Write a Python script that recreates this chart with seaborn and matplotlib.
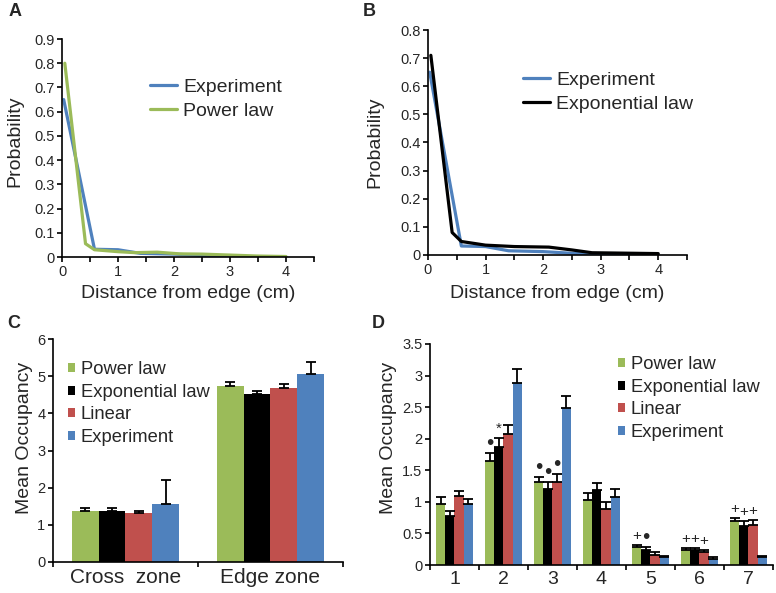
# Edge preference: distance distributions (A, B) and mean occupancy (C, D)

import numpy as np
import pandas as pd
import matplotlib.pyplot as plt
import seaborn as sns

sns.set_theme(style='ticks')
plt.rcParams['font.family'] = ['Liberation Sans', 'DejaVu Sans']

# Panel A / B data - probability vs distance from edge
exp_x = [0.03, 0.58, 1.0, 1.4, 2.0, 2.5, 3.0, 3.5, 4.0]
exp_y = [0.65, 0.032, 0.03, 0.015, 0.012, 0.006, 0.003, 0.001, 0.0]
power_x = [0.05, 0.42, 0.58, 1.0, 1.3, 1.7, 2.1, 2.5, 3.0, 3.5, 4.0]
power_y = [0.80, 0.055, 0.03, 0.022, 0.018, 0.02, 0.013, 0.012, 0.008, 0.004, 0.002]
expo_x = [0.05, 0.42, 0.58, 1.0, 1.5, 2.1, 2.5, 2.85, 4.0]
expo_y = [0.71, 0.08, 0.048, 0.035, 0.03, 0.028, 0.018, 0.008, 0.005]

# Panel C data - zones
models = ['Power law', 'Exponential law', 'Linear', 'Experiment']
zones = ['Cross  zone', 'Edge zone']
zone_mean = {'Power law': [1.36, 4.73], 'Exponential law': [1.36, 4.52],
             'Linear': [1.31, 4.67], 'Experiment': [1.56, 5.06]}
zone_err = {'Power law': [0.09, 0.10], 'Exponential law': [0.09, 0.09],
            'Linear': [0.07, 0.12], 'Experiment': [0.65, 0.32]}

# Panel D data - regions 1..7
regions = ['1', '2', '3', '4', '5', '6', '7']
reg_mean = {'Power law': [0.97, 1.64, 1.31, 1.03, 0.28, 0.24, 0.70],
            'Exponential law': [0.78, 1.87, 1.20, 1.19, 0.24, 0.24, 0.62],
            'Linear': [1.10, 2.07, 1.32, 0.88, 0.16, 0.20, 0.63],
            'Experiment': [0.97, 2.88, 2.48, 1.07, 0.12, 0.09, 0.12]}
reg_err = {'Power law': [0.10, 0.13, 0.09, 0.11, 0.04, 0.03, 0.05],
           'Exponential law': [0.08, 0.14, 0.12, 0.11, 0.05, 0.03, 0.08],
           'Linear': [0.07, 0.15, 0.12, 0.12, 0.04, 0.04, 0.08],
           'Experiment': [0.08, 0.22, 0.20, 0.14, 0.03, 0.03, 0.03]}
# significance marks above bars (region, model, symbol)
marks = [(1, 'Power law', '•'), (1, 'Exponential law', '*'),
         (2, 'Power law', '•'), (2, 'Exponential law', '•'), (2, 'Linear', '•'),
         (4, 'Power law', '+'), (4, 'Exponential law', '•'),
         (5, 'Power law', '+'), (5, 'Exponential law', '+'), (5, 'Linear', '+'),
         (6, 'Power law', '+'), (6, 'Exponential law', '+'), (6, 'Linear', '+')]

colors = {'Power law': '#9BBB59', 'Exponential law': '#000000',
          'Linear': '#C0504D', 'Experiment': '#4F81BD'}

fig = plt.figure(figsize=(7.76, 5.93), dpi=100)
axA = fig.add_axes([0.0799, 0.5666, 0.3247, 0.3676])
axB = fig.add_axes([0.5515, 0.5700, 0.3338, 0.3794])
axC = fig.add_axes([0.0683, 0.0523, 0.3737, 0.3760])
axD = fig.add_axes([0.5541, 0.0472, 0.4420, 0.3727])


def style_axis(ax):
    sns.despine(ax=ax)
    for s in ['left', 'bottom']:
        ax.spines[s].set_linewidth(1.2)
        ax.spines[s].set_color('black')
    ax.tick_params(direction='out', length=3.5, width=1.2, color='black',
                   labelsize=10.5, pad=2)


def fmt(v):
    return '%g' % round(v, 2)


# ---- A and B: line plots
dfA = pd.DataFrame({'x': exp_x + power_x,
                    'y': exp_y + power_y,
                    'model': ['Experiment'] * len(exp_x) + ['Power law'] * len(power_x)})
dfB = pd.DataFrame({'x': exp_x + expo_x,
                    'y': exp_y + expo_y,
                    'model': ['Experiment'] * len(exp_x) + ['Exponential law'] * len(expo_x)})

for ax, df, ymax, leg_xy in [(axA, dfA, 0.9, (0.35, 0.821)), (axB, dfB, 0.8, (0.367, 0.818))]:
    sns.lineplot(data=df, x='x', y='y', hue='model', palette=colors, sort=False,
                 linewidth=2.3, estimator=None, ax=ax)
    style_axis(ax)
    ax.set_xlim(0, 4.5)
    ax.set_ylim(0, ymax)
    xt = np.arange(0, 4.51, 0.5)
    ax.set_xticks(xt)
    ax.set_xticklabels([str(int(t)) if t == int(t) and t < 4.5 else '' for t in xt])
    yt = np.arange(0, ymax + 0.001, 0.1)
    ax.set_yticks(yt)
    ax.set_yticklabels([fmt(t) for t in yt])
    ax.set_xlabel('Distance from edge (cm)', fontsize=14)
    ax.set_ylabel('Probability', fontsize=14)
    h, l = ax.get_legend_handles_labels()
    ax.legend(h, l, loc='upper left', bbox_to_anchor=leg_xy, frameon=False,
              fontsize=14, borderpad=0, borderaxespad=0, labelspacing=0.36,
              handlelength=1.4, handletextpad=0.3)

axA.xaxis.set_label_coords(0.5, -0.128)
axB.xaxis.set_label_coords(0.5, -0.133)
axA.yaxis.set_label_coords(-0.155, 0.53)
axB.yaxis.set_label_coords(-0.174, 0.50)


# ---- C and D: bar plots with upper error bars
def bar_panel(ax, cats, means, errs, width):
    rows = []
    for m in models:
        for i, c in enumerate(cats):
            rows.append({'cat': c, 'model': m, 'mean': means[m][i], 'err': errs[m][i]})
    df = pd.DataFrame(rows)
    sns.barplot(data=df, x='cat', y='mean', hue='model', hue_order=models,
                palette=colors, saturation=1, errorbar=None, width=width,
                linewidth=0, ax=ax)
    for k, m in enumerate(models):
        cont = ax.containers[k]
        xs = [b.get_x() + b.get_width() / 2 for b in cont]
        ax.errorbar(xs, means[m], yerr=[np.zeros(len(cats)), errs[m]], fmt='none',
                    ecolor='black', elinewidth=1.3, capsize=3.5, capthick=1.3)
    style_axis(ax)
    ax.set_xlim(-0.5, len(cats) - 0.5)
    ax.set_xticks(np.arange(-0.5, len(cats)), minor=False)
    ax.set_xticklabels([])
    ax.set_xticks(np.arange(len(cats)), minor=True)
    ax.set_xticklabels(cats, minor=True)
    ax.tick_params(axis='x', which='minor', length=0, pad=4)
    ax.set_xlabel('')
    ax.set_ylabel('Mean Occupancy', fontsize=14)
    h, l = ax.get_legend_handles_labels()
    return h, l


leg_kw = dict(loc='upper left', frameon=False, fontsize=13.2, borderpad=0,
              borderaxespad=0, labelspacing=0.3, handlelength=0.37,
              handleheight=0.37, handletextpad=0.32)

h, l = bar_panel(axC, zones, zone_mean, zone_err, 0.74)
axC.set_ylim(0, 6)
axC.set_yticks(range(7))
axC.tick_params(axis='x', which='minor', labelsize=15)
axC.legend(h, l, bbox_to_anchor=(0.052, 0.90), **leg_kw)
axC.yaxis.set_label_coords(-0.069, 0.556)

h, l = bar_panel(axD, regions, reg_mean, reg_err, 0.74)
axD.set_ylim(0, 3.5)
dt = np.arange(0, 3.51, 0.5)
axD.set_yticks(dt)
axD.set_yticklabels([fmt(t) for t in dt])
axD.tick_params(axis='x', which='minor', labelsize=14)
axD.legend(h, l, bbox_to_anchor=(0.548, 0.945), **leg_kw)
axD.yaxis.set_label_coords(-0.096, 0.575)

# significance symbols above error bars
for reg, m, sym in marks:
    k = models.index(m)
    bar = axD.containers[k][reg]
    xc = bar.get_x() + bar.get_width() / 2
    top = reg_mean[m][reg] + reg_err[m][reg]
    size = 15 if sym == '•' else 11
    axD.text(xc, top + (0.0 if sym == '•' else 0.03), sym, ha='center',
             va='bottom', fontsize=size)

# panel letters
for txt, x, y in [('A', 15, 12), ('B', 369, 12), ('C', 14, 324), ('D', 378, 324)]:
    fig.text(x / 776, 1 - y / 593, txt, fontsize=13, fontweight='bold',
             ha='center', va='center')

plt.savefig('out.png', dpi=100)
